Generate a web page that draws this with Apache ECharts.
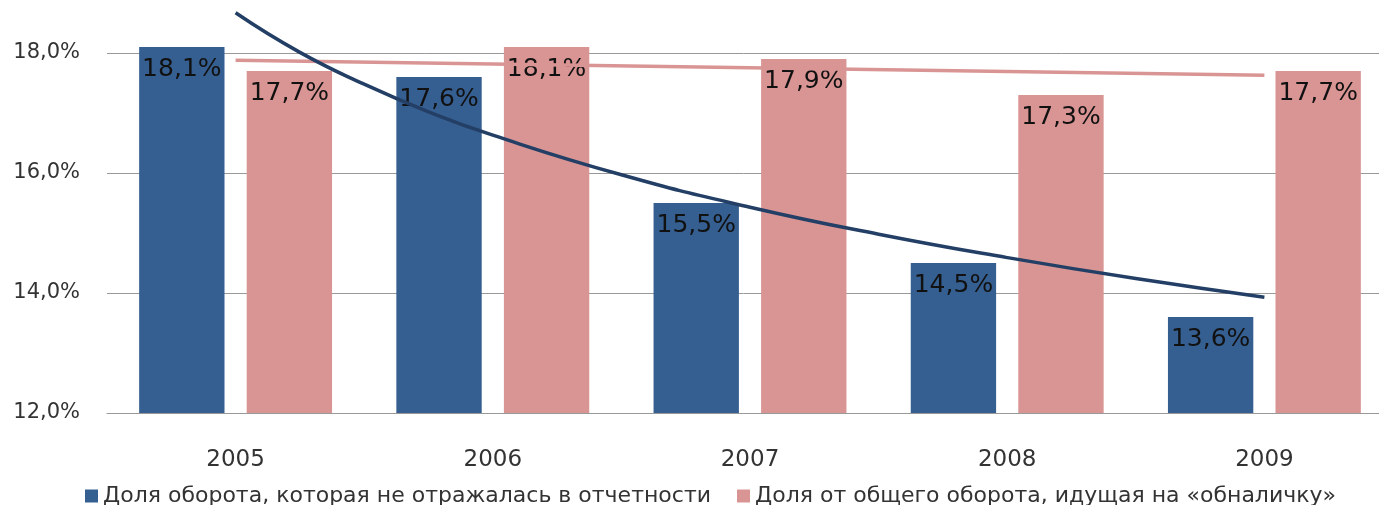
<!DOCTYPE html>
<html><head><meta charset="utf-8">
<script src="https://cdn.jsdelivr.net/npm/echarts@6/dist/echarts.min.js"></script>
<style>html,body{margin:0;padding:0;background:#fff}#c{width:1379px;height:505px}</style>
</head><body><div id="c"></div>
<script>
const categories = ['2005','2006','2007','2008','2009'];
const seriesNames = ['Доля оборота, которая не отражалась в отчетности','Доля от общего оборота, идущая на «обналичку»'];
const hiddenShare = [18.1, 17.6, 15.5, 14.5, 13.6];
const cashShare = [17.7, 18.1, 17.9, 17.3, 17.7];
// trend lines: [category position, value]
const hiddenTrend = [[0,18.67],[0.25,18.01],[0.5,17.48],[0.75,17.02],[1,16.63],[1.5,15.97],[2,15.43],[2.5,14.98],[3,14.59],[3.5,14.24],[4,13.93]];
const cashTrend = [[0,17.88],[4,17.63]];
const yTicks = [12,14,16,18];

const FONT = 'DejaVu Sans';
const fmt = v => v.toFixed(1).replace('.', ',') + '%';
const chart = echarts.init(document.getElementById('c'));
const labelStyle = {show:true, position:'insideTop', distance:10, fontSize:25, color:'#111', fontFamily:FONT, formatter:p=>fmt(p.value)};
chart.setOption({
  animation:false,
  grid:{left:107, width:1286, top:-67, bottom:92, outerBoundsMode:'none', containLabel:false},
  legend:{top:480, left:80, itemWidth:13, itemHeight:13, itemGap:26, icon:'rect',
    textStyle:{fontSize:22, color:'#333', fontFamily:FONT}, data:seriesNames},
  xAxis:[
    {type:'category', data:categories, axisTick:{show:false},
     axisLine:{lineStyle:{color:'#999'}},
     axisLabel:{fontSize:23, color:'#333', margin:36, fontFamily:FONT}},
    {type:'value', min:-0.5, max:4.5, show:false}
  ],
  yAxis:{type:'value', min:12, max:20, interval:2,
    axisLine:{show:false}, axisTick:{show:false},
    splitLine:{lineStyle:{color:'#999', width:1}},
    axisLabel:{fontSize:21, color:'#333', margin:27, fontFamily:FONT,
      formatter:v=> yTicks.includes(v) ? fmt(v) : ''}},
  series:[
    {name:seriesNames[0], type:'bar', data:hiddenShare, barGap:'26%', barCategoryGap:'25%',
     itemStyle:{color:'#365F91'}, label:labelStyle},
    {name:seriesNames[1], type:'bar', data:cashShare,
     itemStyle:{color:'#D99594'}, label:labelStyle},
    {type:'line', xAxisIndex:1, data:cashTrend, symbol:'none', z:5,
     lineStyle:{color:'#D99594', width:3.5}},
    {type:'line', xAxisIndex:1, data:hiddenTrend, symbol:'none', smooth:true, z:6,
     lineStyle:{color:'#243F66', width:3.5}}
  ]
});
</script></body></html>
